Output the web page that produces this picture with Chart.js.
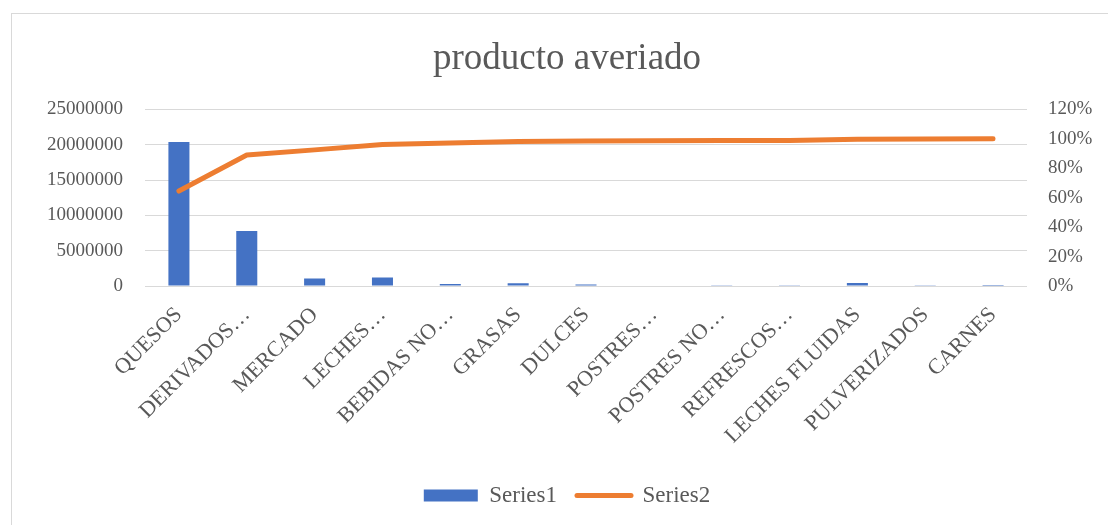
<!DOCTYPE html>
<html>
<head>
<meta charset="utf-8">
<script src="https://cdn.jsdelivr.net/npm/chart.js@4"></script>
<style>
  body { margin: 0; background: #fff; overflow: hidden; width: 1108px; height: 525px; position: relative; }
  .frame { position: absolute; left: 11px; top: 13px; width: 1120px; height: 540px; border: 1px solid #d9d9d9; }
  .wrap { position: absolute; left: 0; top: 0; width: 1134px; height: 525px; }
</style>
</head>
<body>
<div class="frame"></div>
<div class="wrap"><canvas id="myChart"></canvas></div>
<script>
// categories and values
const categories = ['QUESOS', 'DERIVADOS…', 'MERCADO', 'LECHES…', 'BEBIDAS NO…', 'GRASAS', 'DULCES',
  'POSTRES…', 'POSTRES NO…', 'REFRESCOS…', 'LECHES FLUIDAS', 'PULVERIZADOS', 'CARNES'];
const series1 = [20400000, 7800000, 1050000, 1200000, 300000, 400000, 200000, 60000, 50000, 40000, 420000, 20000, 10000];
const series2 = [0.645, 0.89, 0.925, 0.962, 0.972, 0.982, 0.986, 0.987, 0.988, 0.988, 0.998, 0.999, 1.0];
const leftTicks = [0, 5000000, 10000000, 15000000, 20000000, 25000000];
const rightTicks = [0, 0.2, 0.4, 0.6, 0.8, 1.0, 1.2];

const txt = '#595959';
const serif = "'Liberation Serif', 'Times New Roman', serif";
Chart.defaults.font.family = serif;
Chart.defaults.color = txt;

new Chart("myChart", {
  data: {
    labels: categories,
    datasets: [
      {
        type: 'line',
        label: 'Series2',
        data: series2,
        yAxisID: 'y2',
        borderColor: '#ED7D31',
        backgroundColor: '#ED7D31',
        borderWidth: 5,
        borderCapStyle: 'round',
        borderJoinStyle: 'round',
        pointRadius: 0,
        tension: 0
      },
      {
        type: 'bar',
        label: 'Series1',
        data: series1,
        yAxisID: 'y',
        backgroundColor: '#4472C4',
        categoryPercentage: 1,
        barPercentage: 0.31
      }
    ]
  },
  options: {
    responsive: true,
    maintainAspectRatio: false,
    animation: false,
    layout: { padding: { left: 0, right: 0, top: 0, bottom: 8 } },
    plugins: {
      title: {
        display: true,
        text: 'producto averiado',
        color: txt,
        font: { family: serif, size: 37, weight: 'normal' },
        padding: { top: 37, bottom: 28 }
      },
      legend: {
        position: 'bottom',
        reverse: true,
        labels: {
          color: txt,
          font: { family: serif, size: 23 },
          usePointStyle: true,
          pointStyleWidth: 54,
          boxHeight: 12,
          padding: 20,
          generateLabels: (chart) => {
            const items = Chart.defaults.plugins.legend.labels.generateLabels(chart);
            items.forEach(it => {
              if (it.text === 'Series1') {
                it.pointStyle = 'rect';
                it.lineWidth = 0;
                it.fillStyle = '#4472C4';
              } else {
                it.pointStyle = 'line';
                it.lineWidth = 5;
                it.lineCap = 'round';
                it.strokeStyle = '#ED7D31';
              }
            });
            return items;
          }
        }
      },
      tooltip: { enabled: false }
    },
    scales: {
      x: {
        grid: { display: false },
        border: { display: false },
        afterFit: (axis) => { axis.height = 178; },
        ticks: {
          color: txt,
          font: { family: serif, size: 22 },
          maxRotation: 45,
          minRotation: 45,
          autoSkip: false,
          padding: 8
        }
      },
      y: {
        position: 'left',
        min: 0,
        max: 25000000,
        afterBuildTicks: (axis) => { axis.ticks = leftTicks.map(v => ({ value: v })); },
        afterFit: (axis) => { axis.width = 145; },
        grid: { color: '#d9d9d9', drawTicks: false },
        border: { display: false },
        ticks: {
          color: txt,
          font: { family: serif, size: 19 },
          padding: 22,
          callback: (v) => String(v)
        }
      },
      y2: {
        position: 'right',
        min: 0,
        max: 1.2,
        afterBuildTicks: (axis) => { axis.ticks = rightTicks.map(v => ({ value: v })); },
        afterFit: (axis) => { axis.width = 107; },
        grid: { display: false, drawTicks: false },
        border: { display: false },
        ticks: {
          color: txt,
          font: { family: serif, size: 19 },
          padding: 21,
          callback: (v) => Math.round(v * 100) + '%'
        }
      }
    }
  }
});
</script>
</body>
</html>
